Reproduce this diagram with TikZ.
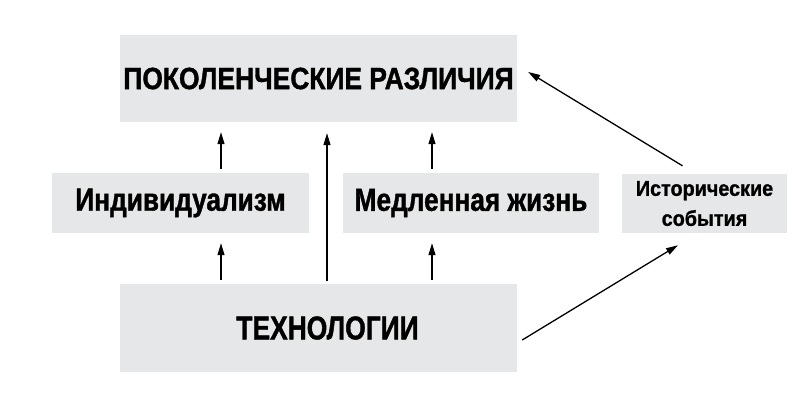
\documentclass[tikz,border=0pt]{standalone}
\usepackage{fontspec}
\newfontfamily\fTitle[FakeStretch=0.86,BoldFeatures={FakeBold=1.2}]{Liberation Sans}
\newfontfamily\fMid[FakeStretch=0.82,BoldFeatures={FakeBold=1.2}]{Liberation Sans}
\newfontfamily\fTech[FakeStretch=0.80,BoldFeatures={FakeBold=1.2}]{Liberation Sans}
\newfontfamily\fHist[FakeStretch=0.92,BoldFeatures={FakeBold=1.0}]{Liberation Sans}
\usetikzlibrary{arrows.meta}
\definecolor{boxgray}{RGB}{230,231,232}
\tikzset{
  box/.style={fill=boxgray, draw=none, inner sep=0pt, align=center},
  arr/.style={-{Triangle[length=12pt,width=7pt]}, line width=1.3pt, black},
}
\begin{document}
\begin{tikzpicture}[x=1pt,y=-1pt]
\useasboundingbox (0,0) rectangle (800,400);
\node[box, minimum width=397pt, minimum height=87pt, font=\fTitle\bfseries\fontsize{30.7}{34}\selectfont] (top) at (318.5,78.5) {ПОКОЛЕНЧЕСКИЕ РАЗЛИЧИЯ};
\node[box, minimum width=257pt, minimum height=60pt, font=\fMid\bfseries\fontsize{32}{36}\selectfont] (indiv) at (180.5,203) {Индивидуализм};
\node[box, minimum width=256pt, minimum height=60pt, font=\fMid\bfseries\fontsize{32}{36}\selectfont] (medl) at (471,203) {Медленная жизнь};
\node[box, minimum width=397pt, minimum height=88pt, font=\fTech\bfseries\fontsize{33}{36}\selectfont] (tech) at (318.5,328) {\hspace*{18pt}ТЕХНОЛОГИИ};
\node[box, minimum width=165pt, minimum height=59pt, font=\fHist\bfseries\fontsize{21.5}{30}\selectfont] (hist) at (704.5,203.5) {\raisebox{-2pt}{Исторические}\\\raisebox{-2pt}{события}};
\coordinate (xa) at (221,0);
\coordinate (xb) at (327,0);
\coordinate (xc) at (432,0);
\draw[arr, shorten <=4pt, shorten >=10pt] (indiv.north -| xa) -- (top.south -| xa);
\draw[arr, shorten <=4pt, shorten >=10pt] (tech.north -| xa) -- (indiv.south -| xa);
\draw[arr, shorten <=3pt, shorten >=11pt] (tech.north -| xb) -- (top.south -| xb);
\draw[arr, shorten <=4pt, shorten >=10pt] (medl.north -| xc) -- (top.south -| xc);
\draw[arr, shorten <=4pt, shorten >=10pt] (tech.north -| xc) -- (medl.south -| xc);
\draw[arr] ([shift={(-22,-8)}]hist.north) -- ([shift={(11,-6.5)}]top.east);
\draw[arr] ([shift={(5,12)}]tech.east) -- ([shift={(-26.5,12)}]hist.south);
\end{tikzpicture}
\end{document}
